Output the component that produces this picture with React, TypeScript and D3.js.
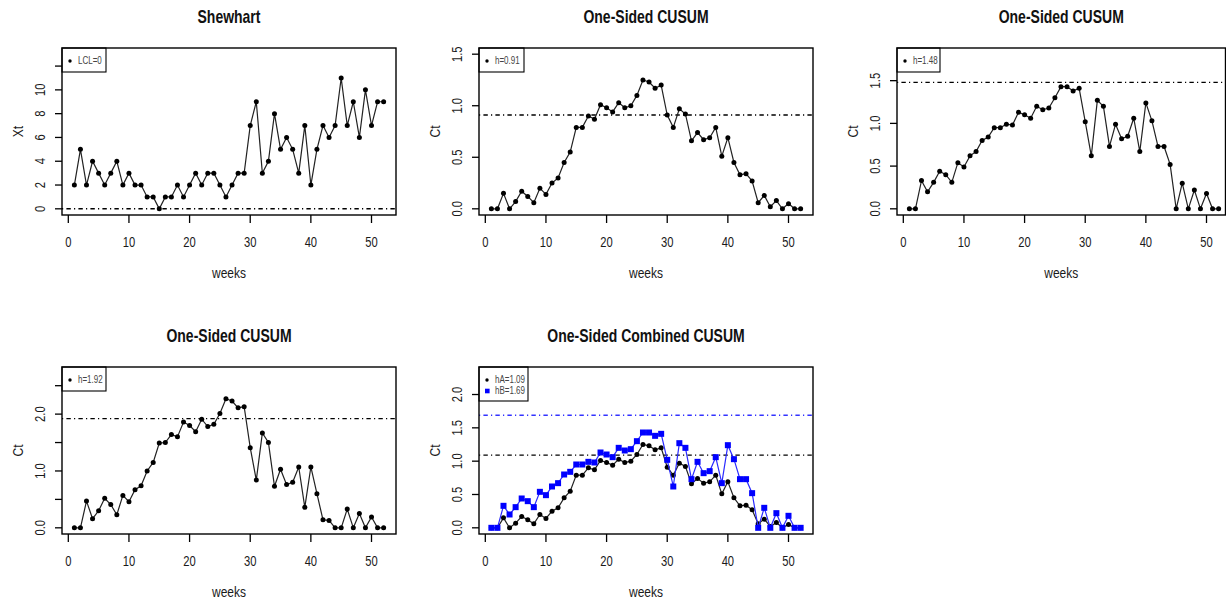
import React from 'react';
import * as d3 from 'd3';

// Week index shared by every panel
const weeks = d3.range(1, 53);

// Weekly counts (Shewhart chart)
const shewhartXt = [2, 5, 2, 4, 3, 2, 3, 4, 2, 3, 2, 2, 1, 1, 0, 1, 1, 2, 1, 2, 3, 2, 3, 3, 2, 1, 2, 3, 3, 7, 9, 3, 4, 8, 5, 6, 5, 3, 7, 2, 5, 7, 6, 7, 11, 7, 9, 6, 10, 7, 9, 9];

// One-sided CUSUM statistics
const cusumLow = [0, 0, 0.15, 0, 0.07, 0.17, 0.12, 0.06, 0.2, 0.14, 0.25, 0.3, 0.45, 0.55, 0.79, 0.79, 0.9, 0.87, 1.01, 0.98, 0.94, 1.03, 0.98, 1.0, 1.1, 1.25, 1.23, 1.17, 1.2, 0.91, 0.79, 0.97, 0.92, 0.66, 0.74, 0.67, 0.69, 0.79, 0.51, 0.69, 0.45, 0.33, 0.34, 0.27, 0.06, 0.13, 0.02, 0.08, 0, 0.05, 0, 0];
const cusumMid = [0, 0, 0.33, 0.2, 0.31, 0.44, 0.4, 0.31, 0.54, 0.49, 0.62, 0.67, 0.8, 0.84, 0.95, 0.95, 0.99, 0.98, 1.13, 1.1, 1.06, 1.2, 1.16, 1.18, 1.3, 1.43, 1.43, 1.38, 1.41, 1.02, 0.62, 1.27, 1.2, 0.73, 0.99, 0.82, 0.85, 1.06, 0.67, 1.24, 1.03, 0.73, 0.73, 0.52, 0, 0.3, 0, 0.22, 0, 0.18, 0, 0];
const cusumHigh = [0, 0, 0.47, 0.16, 0.3, 0.52, 0.41, 0.23, 0.57, 0.46, 0.67, 0.74, 1.0, 1.15, 1.49, 1.5, 1.64, 1.6, 1.86, 1.8, 1.69, 1.91, 1.78, 1.82, 2.01, 2.27, 2.23, 2.11, 2.13, 1.41, 0.84, 1.67, 1.5, 0.73, 1.03, 0.76, 0.8, 1.07, 0.36, 1.07, 0.6, 0.14, 0.13, 0, 0, 0.33, 0, 0.25, 0, 0.19, 0, 0];

// Decision limits
const limitLCL = 0;
const limitH1 = 0.91;
const limitH2 = 1.48;
const limitH3 = 1.92;
const limitHA = 1.09;
const limitHB = 1.69;

const xTicks = [0, 10, 20, 30, 40, 50];

const FONT = "'Liberation Sans',Arial,sans-serif";
const CONDENSE = 0.8;
const DOTDASH = '1.2,3.2,4.4,3.2';
const BLUE = '#0000ff';

type Series = { values: number[]; color: string; lineColor: string; shape: 'circle' | 'square' };
type HLine = { value: number; color: string };
type LegendItem = { label: string; color: string; shape: 'circle' | 'square' };

// Narrow text: horizontally condensed along its own direction
function NText(props: {
  x: number;
  y: number;
  rotate?: number;
  size: number;
  anchor?: 'start' | 'middle' | 'end';
  bold?: boolean;
  fill?: string;
  baseline?: string;
  children: React.ReactNode;
}) {
  const rot = props.rotate ? ` rotate(${props.rotate})` : '';
  return (
    <text
      transform={`translate(${props.x},${props.y})${rot} scale(${CONDENSE},1)`}
      textAnchor={props.anchor ?? 'middle'}
      dominantBaseline={props.baseline}
      fontFamily={FONT}
      fontSize={props.size}
      fontWeight={props.bold ? 'bold' : 'normal'}
      fill={props.fill ?? '#1a1a1a'}
    >
      {props.children}
    </text>
  );
}

type PanelProps = {
  left: number;
  top: number;
  width: number;
  height: number;
  frameRight?: number;
  title: string;
  ylab: string;
  ylim: [number, number];
  yTicks: number[];
  yLabels: number[];
  yFormat: (v: number) => string;
  series: Series[];
  hlines: HLine[];
  legend: LegendItem[];
  legendWidth: number;
};

function extend(lo: number, hi: number): [number, number] {
  const pad = (hi - lo) * 0.04;
  return [lo - pad, hi + pad];
}

function Panel(p: PanelProps) {
  const right = p.left + p.width;
  const bottom = p.top + p.height;
  const frameRight = p.frameRight ?? right;
  const x = d3.scaleLinear().domain(extend(1, 52)).range([p.left, right]);
  const y = d3.scaleLinear().domain(extend(p.ylim[0], p.ylim[1])).range([bottom, p.top]);
  const line = d3
    .line<number>()
    .x((_, i) => x(weeks[i]))
    .y((d) => y(d));
  const cx = (p.left + frameRight) / 2;
  const legendH = p.legend.length === 1 ? 24 : 34;

  return (
    <g>
      <NText x={cx} y={p.top - 25} size={17.5} bold fill="#111">
        {p.title}
      </NText>

      {/* horizontal decision limits */}
      {p.hlines.map((h, i) => (
        <line key={'h' + i} x1={p.left} x2={frameRight} y1={y(h.value)} y2={y(h.value)} stroke={h.color} strokeWidth={1.4} strokeDasharray={DOTDASH} />
      ))}

      {p.series.map((s, si) => (
        <g key={'s' + si}>
          <path d={line(s.values) || ''} fill="none" stroke={s.lineColor} strokeWidth={1.2} />
          {s.values.map((v, i) =>
            s.shape === 'circle' ? (
              <circle key={i} cx={x(weeks[i])} cy={y(v)} r={2.5} fill={s.color} />
            ) : (
              <rect key={i} x={x(weeks[i]) - 3} y={y(v) - 3} width={6} height={6} fill={s.color} />
            )
          )}
        </g>
      ))}

      {/* legend */}
      <rect x={p.left} y={p.top} width={p.legendWidth} height={legendH} fill="#fff" stroke="#000" strokeWidth={1.1} />
      {p.legend.map((l, i) => {
        const ly = p.top + 13 + i * 11;
        return (
          <g key={'l' + i}>
            {l.shape === 'circle' ? (
              <circle cx={p.left + 8} cy={ly} r={1.7} fill={l.color} />
            ) : (
              <rect x={p.left + 6} y={ly - 2.3} width={4.6} height={4.6} fill={l.color} />
            )}
            <NText x={p.left + 16} y={ly} size={10} anchor="start" baseline="central" fill="#444">
              {l.label}
            </NText>
          </g>
        );
      })}

      {/* frame */}
      <rect x={p.left} y={p.top} width={frameRight - p.left} height={p.height} fill="none" stroke="#000" strokeWidth={1.4} />

      {/* x axis */}
      {xTicks.map((t) => (
        <g key={'x' + t}>
          <line x1={x(t)} x2={x(t)} y1={bottom} y2={bottom + 8} stroke="#000" strokeWidth={1.3} />
          <NText x={x(t)} y={bottom + 32} size={14}>
            {t}
          </NText>
        </g>
      ))}
      <NText x={cx} y={bottom + 63} size={15}>
        weeks
      </NText>

      {/* y axis */}
      {p.yTicks.map((t) => (
        <line key={'y' + t} x1={p.left - 7} x2={p.left} y1={y(t)} y2={y(t)} stroke="#000" strokeWidth={1.3} />
      ))}
      {p.yLabels.map((t) => (
        <NText key={'yl' + t} x={p.left - 17} y={y(t)} rotate={-90} size={14}>
          {p.yFormat(t)}
        </NText>
      ))}
      <NText x={p.left - 39} y={(p.top + bottom) / 2} rotate={-90} size={15}>
        {p.ylab}
      </NText>
    </g>
  );
}

const fmt1 = d3.format('.1f');
const fmt0 = (v: number) => String(v);

export default function App() {
  const W = 334;
  const H = 167;
  const row1 = 48;
  const row2 = 367;
  return (
    <svg width={1226} height={604} style={{ position: 'absolute', left: 0, top: 0, background: '#fff' }}>
      <rect width={1226} height={604} fill="#fff" />
      <Panel
        left={62}
        top={row1}
        width={W}
        height={H}
        title="Shewhart"
        ylab="Xt"
        ylim={[0, 13]}
        yTicks={[0, 2, 4, 6, 8, 10, 12]}
        yLabels={[0, 2, 4, 6, 8, 10]}
        yFormat={fmt0}
        series={[{ values: shewhartXt, color: '#000', lineColor: '#222', shape: 'circle' }]}
        hlines={[{ value: limitLCL, color: '#000' }]}
        legend={[{ label: `LCL=${limitLCL}`, color: '#000', shape: 'circle' }]}
        legendWidth={44}
      />
      <Panel
        left={479}
        top={row1}
        width={W}
        height={H}
        title="One-Sided CUSUM"
        ylab="Ct"
        ylim={[0, 1.5]}
        yTicks={[0, 0.5, 1, 1.5]}
        yLabels={[0, 0.5, 1, 1.5]}
        yFormat={fmt1}
        series={[{ values: cusumLow, color: '#000', lineColor: '#222', shape: 'circle' }]}
        hlines={[{ value: limitH1, color: '#000' }]}
        legend={[{ label: `h=${limitH1}`, color: '#000', shape: 'circle' }]}
        legendWidth={45}
      />
      <Panel
        left={897}
        top={row1}
        width={W}
        height={H}
        frameRight={1225.5}
        title="One-Sided CUSUM"
        ylab="Ct"
        ylim={[0, 1.81]}
        yTicks={[0, 0.5, 1, 1.5]}
        yLabels={[0, 0.5, 1, 1.5]}
        yFormat={fmt1}
        series={[{ values: cusumMid, color: '#000', lineColor: '#222', shape: 'circle' }]}
        hlines={[{ value: limitH2, color: '#000' }]}
        legend={[{ label: `h=${limitH2}`, color: '#000', shape: 'circle' }]}
        legendWidth={43}
      />
      <Panel
        left={62}
        top={row2}
        width={W}
        height={H}
        title="One-Sided CUSUM"
        ylab="Ct"
        ylim={[0, 2.72]}
        yTicks={[0, 0.5, 1, 1.5, 2, 2.5]}
        yLabels={[0, 1, 2]}
        yFormat={fmt1}
        series={[{ values: cusumHigh, color: '#000', lineColor: '#222', shape: 'circle' }]}
        hlines={[{ value: limitH3, color: '#000' }]}
        legend={[{ label: `h=${limitH3}`, color: '#000', shape: 'circle' }]}
        legendWidth={44}
      />
      <Panel
        left={479}
        top={row2}
        width={W}
        height={H}
        title="One-Sided Combined CUSUM"
        ylab="Ct"
        ylim={[0, 2.32]}
        yTicks={[0, 0.5, 1, 1.5, 2]}
        yLabels={[0, 0.5, 1, 1.5, 2]}
        yFormat={fmt1}
        series={[
          { values: cusumLow, color: '#000', lineColor: '#222', shape: 'circle' },
          { values: cusumMid, color: BLUE, lineColor: '#2a2aff', shape: 'square' },
        ]}
        hlines={[
          { value: limitHA, color: '#000' },
          { value: limitHB, color: '#3333ff' },
        ]}
        legend={[
          { label: `hA=${limitHA}`, color: '#000', shape: 'circle' },
          { label: `hB=${limitHB}`, color: BLUE, shape: 'square' },
        ]}
        legendWidth={49}
      />
    </svg>
  );
}
